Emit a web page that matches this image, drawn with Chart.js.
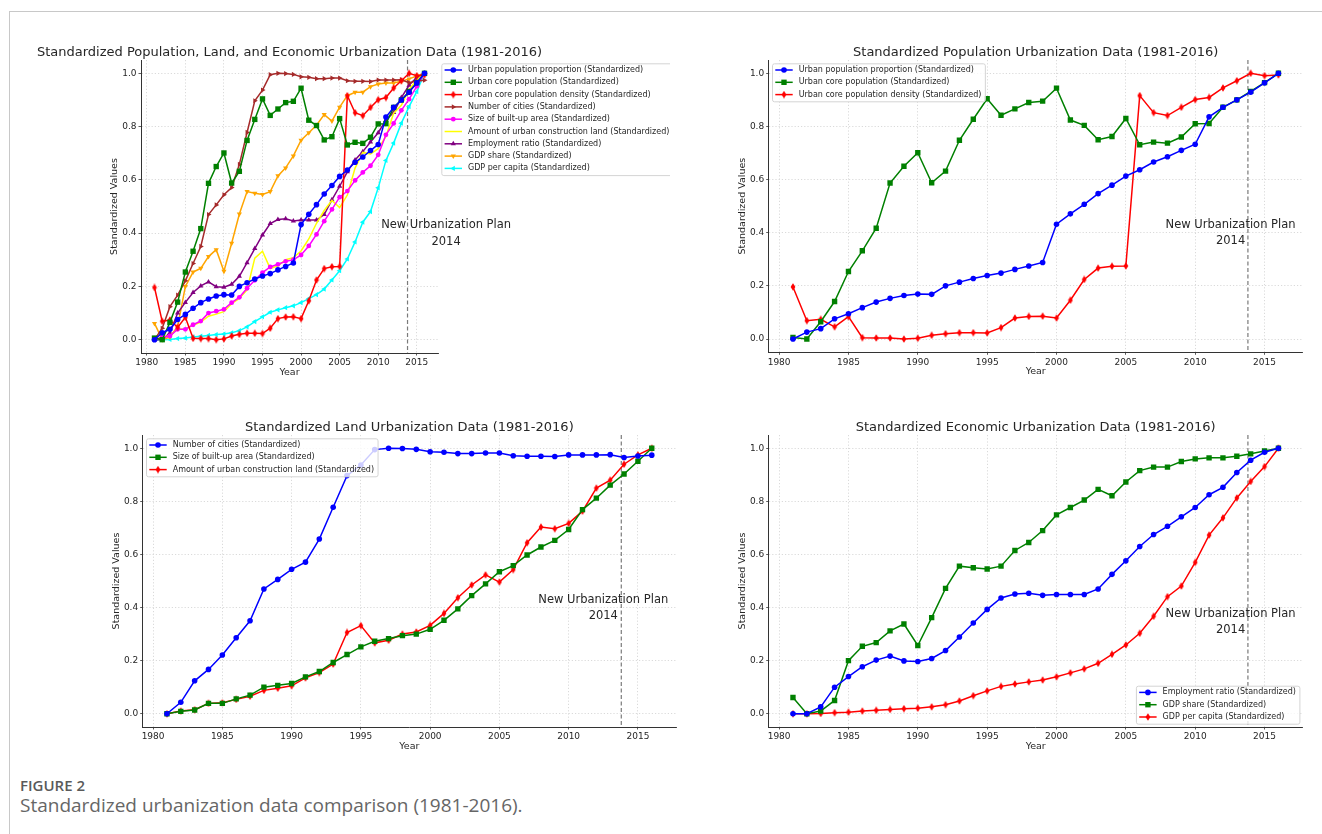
<!DOCTYPE html>
<html>
<head>
<meta charset="utf-8">
<script src="https://cdn.jsdelivr.net/npm/chart.js@4.4.1/dist/chart.umd.min.js"></script>
<style>
  body { margin: 0; width: 1322px; height: 834px; background: #fff; position: relative; overflow: hidden; }
  .frame { position: absolute; left: 9px; top: 11px; right: 0; bottom: 0; border-top: 1px solid #c8c8c8; border-left: 1px solid #c8c8c8; }
  canvas { position: absolute; }
  #figno { position: absolute; left: 20px; top: 775px; font: 600 15px "Open Sans"; color: #5a5a5a; line-height: 20px; }
  #caption { position: absolute; left: 20px; top: 793px; font: 400 19px "Open Sans"; color: #666; line-height: 24px; }
</style>
</head>
<body>
<div class="frame"></div>
<canvas id="allChart"></canvas>
<canvas id="popChart"></canvas>
<canvas id="landChart"></canvas>
<canvas id="econChart"></canvas>
<div id="figno">FIGURE 2</div>
<div id="caption">Standardized urbanization data comparison (1981-2016).</div>

<script>
// ---- data ----
const years = [1981, 1982, 1983, 1984, 1985, 1986, 1987, 1988, 1989, 1990, 1991, 1992,
               1993, 1994, 1995, 1996, 1997, 1998, 1999, 2000, 2001, 2002, 2003, 2004,
               2005, 2006, 2007, 2008, 2009, 2010, 2011, 2012, 2013, 2014, 2015, 2016];

const urbanPopProportion = [0.000, 0.026, 0.039, 0.076, 0.095, 0.118, 0.139, 0.153, 0.164, 0.169, 0.168, 0.200,
                            0.214, 0.228, 0.239, 0.248, 0.262, 0.275, 0.288, 0.432, 0.471, 0.507, 0.547, 0.579,
                            0.613, 0.637, 0.666, 0.686, 0.710, 0.733, 0.836, 0.872, 0.900, 0.929, 0.964, 1.000];
const urbanCorePop = [0.006, 0.000, 0.065, 0.141, 0.254, 0.332, 0.417, 0.587, 0.650, 0.701, 0.588, 0.632,
                      0.748, 0.827, 0.904, 0.842, 0.866, 0.890, 0.895, 0.944, 0.824, 0.804, 0.750, 0.762,
                      0.830, 0.731, 0.741, 0.737, 0.760, 0.810, 0.811, 0.872, 0.900, 0.932, 0.965, 1.000];
const urbanCoreDensity = [0.196, 0.069, 0.074, 0.046, 0.084, 0.005, 0.004, 0.004, 0.000, 0.003, 0.014, 0.020,
                          0.024, 0.024, 0.023, 0.043, 0.079, 0.085, 0.086, 0.079, 0.146, 0.224, 0.267, 0.274,
                          0.275, 0.916, 0.852, 0.841, 0.872, 0.901, 0.909, 0.945, 0.972, 1.000, 0.991, 0.994];
const numberOfCities = [0.000, 0.043, 0.124, 0.167, 0.221, 0.286, 0.350, 0.470, 0.506, 0.544, 0.571, 0.658,
                        0.778, 0.897, 0.937, 0.995, 1.000, 0.999, 0.996, 0.987, 0.985, 0.980, 0.980, 0.982,
                        0.982, 0.972, 0.970, 0.970, 0.969, 0.975, 0.975, 0.975, 0.976, 0.965, 0.971, 0.974];
const builtUpArea = [0.000, 0.009, 0.014, 0.039, 0.039, 0.056, 0.070, 0.100, 0.107, 0.114, 0.139, 0.159,
                     0.193, 0.223, 0.252, 0.273, 0.283, 0.294, 0.300, 0.318, 0.352, 0.395, 0.445, 0.489,
                     0.535, 0.558, 0.598, 0.628, 0.653, 0.694, 0.769, 0.812, 0.861, 0.903, 0.951, 1.000];
const constructionLand = [0.000, 0.010, 0.015, 0.039, 0.041, 0.054, 0.066, 0.088, 0.096, 0.105, 0.135, 0.155,
                          0.187, 0.306, 0.332, 0.267, 0.277, 0.300, 0.308, 0.333, 0.378, 0.437, 0.485, 0.523,
                          0.496, 0.543, 0.644, 0.703, 0.697, 0.717, 0.763, 0.850, 0.880, 0.940, 0.975, 1.000];
const employmentRatio = [0.000, 0.000, 0.026, 0.100, 0.140, 0.177, 0.202, 0.217, 0.199, 0.197, 0.208, 0.238,
                         0.289, 0.342, 0.393, 0.436, 0.451, 0.454, 0.446, 0.449, 0.449, 0.449, 0.470, 0.525,
                         0.576, 0.630, 0.675, 0.706, 0.742, 0.777, 0.825, 0.853, 0.909, 0.955, 0.985, 1.000];
const gdpShare = [0.061, 0.000, 0.010, 0.050, 0.200, 0.254, 0.268, 0.312, 0.338, 0.257, 0.362, 0.472,
                  0.556, 0.550, 0.545, 0.556, 0.615, 0.645, 0.690, 0.749, 0.777, 0.805, 0.845, 0.821,
                  0.873, 0.916, 0.929, 0.929, 0.950, 0.960, 0.964, 0.964, 0.970, 0.979, 0.990, 1.000];
const gdpPerCapita = [0.000, 0.000, 0.001, 0.004, 0.006, 0.010, 0.013, 0.016, 0.019, 0.021, 0.026, 0.034,
                      0.048, 0.068, 0.086, 0.103, 0.112, 0.120, 0.127, 0.139, 0.154, 0.169, 0.190, 0.224,
                      0.259, 0.303, 0.367, 0.441, 0.481, 0.570, 0.673, 0.738, 0.813, 0.875, 0.931, 1.000];

const xTicks = [1980, 1985, 1990, 1995, 2000, 2005, 2010, 2015];
const yTicks = [0.0, 0.2, 0.4, 0.6, 0.8, 1.0];
const xRange = [1979.25, 2017.75];
const yRange = [-0.05, 1.05];

const planLineYear = 2013.8;
const planLabel = ['New Urbanization Plan', '2014'];

// ---- styling ----
Chart.defaults.font.family = '"DejaVu Sans", sans-serif';
Chart.defaults.color = '#262626';

const TICK_FONT = 9;
const LABEL_FONT = 9.5;
const Y_W = 32.2;   // y axis strip width (ticks + title)
const X_H = 25.2;   // x axis strip height

function thinDiamond(color) {
    const c = document.createElement('canvas');
    c.width = 6; c.height = 8;
    const g = c.getContext('2d');
    g.fillStyle = color;
    g.beginPath();
    g.moveTo(3, 0.3); g.lineTo(5.4, 4); g.lineTo(3, 7.7); g.lineTo(0.6, 4);
    g.closePath();
    g.fill();
    return c;
}

function series(label, values, color, marker, radius, rotation) {
    return {
        label,
        data: years.map((yr, i) => ({ x: yr, y: values[i] })),
        borderColor: color,
        backgroundColor: color,
        borderWidth: 1.5,
        pointStyle: marker,
        pointRadius: radius,
        pointRotation: rotation || 0,
        pointBackgroundColor: color,
        pointBorderColor: color,
        pointBorderWidth: 0,
        tension: 0
    };
}

function drawMarker(ctx, ds, x, y) {
    const style = ds.pointStyle, r = ds.pointRadius;
    if (!r) return;
    if (typeof style === 'object') {
        ctx.drawImage(style, x - style.width / 2, y - style.height / 2);
        return;
    }
    ctx.fillStyle = ds.borderColor;
    ctx.beginPath();
    if (style === 'circle') {
        ctx.arc(x, y, r, 0, Math.PI * 2);
    } else if (style === 'rect') {
        const s = r * Math.SQRT1_2;
        ctx.rect(x - s, y - s, 2 * s, 2 * s);
    } else if (style === 'triangle') {
        let a = (ds.pointRotation || 0) * Math.PI / 180;
        for (let i = 0; i < 3; i++) {
            const px = x + Math.sin(a) * r, py = y - Math.cos(a) * r;
            if (i) ctx.lineTo(px, py); else ctx.moveTo(px, py);
            a += 2 * Math.PI / 3;
        }
        ctx.closePath();
    }
    ctx.fill();
}

// title, plan line, annotation and matplotlib-like legend
const decorPlugin = {
    id: 'decor',
    beforeDatasetsDraw(chart) {
        const { ctx, chartArea: a, scales: { x } } = chart;
        const px = x.getPixelForValue(planLineYear);
        ctx.save();
        ctx.strokeStyle = '#7a7a7a';
        ctx.lineWidth = 1.2;
        ctx.setLineDash([4, 2.5]);
        ctx.beginPath();
        ctx.moveTo(px, a.top);
        ctx.lineTo(px, a.bottom);
        ctx.stroke();
        ctx.restore();
    },
    afterDraw(chart, args, opts) {
        const { ctx, chartArea: a, scales: { x, y } } = chart;
        ctx.save();
        ctx.fillStyle = '#262626';
        ctx.textAlign = 'center';
        ctx.textBaseline = 'alphabetic';
        ctx.font = '13px "DejaVu Sans"';
        ctx.fillText(opts.title, (a.left + a.right) / 2, a.top - 4.5);

        ctx.font = '11.5px "DejaVu Sans"';
        ctx.textBaseline = 'middle';
        const nx = x.getPixelForValue(opts.noteX);
        ctx.fillText(planLabel[0], nx, y.getPixelForValue(opts.noteY[0]));
        ctx.fillText(planLabel[1], nx, y.getPixelForValue(opts.noteY[1]));

        // legend
        const items = chart.data.datasets;
        ctx.font = '8px "DejaVu Sans"';
        const rowH = 12.3, padX = 3.3, padTop = 6.7, sampleW = 17.4, gap = 6;
        const textW = Math.max(...items.map(d => ctx.measureText(d.label).width));
        const boxW = padX + sampleW + gap + textW + 3.5;
        const boxH = padTop * 2 + rowH * (items.length - 1);
        let bx, by;
        if (opts.legend === 'outside') { bx = a.right + 3.3; by = a.top + 3.3; }
        else if (opts.legend === 'upperLeft') { bx = a.left + 3.3; by = a.top + 3.3; }
        else { bx = a.right - 3.3 - boxW; by = a.bottom - 3.3 - boxH; }

        ctx.fillStyle = 'rgba(255,255,255,0.8)';
        ctx.strokeStyle = '#d4d4d4';
        ctx.lineWidth = 1;
        ctx.beginPath();
        ctx.roundRect(bx + 0.5, by + 0.5, boxW, boxH, 2);
        ctx.fill();
        ctx.stroke();

        items.forEach((d, i) => {
            const cy = by + padTop + i * rowH;
            const sx = bx + padX;
            ctx.strokeStyle = d.borderColor;
            ctx.lineWidth = 1.5;
            ctx.beginPath();
            ctx.moveTo(sx, cy);
            ctx.lineTo(sx + sampleW, cy);
            ctx.stroke();
            drawMarker(ctx, d, sx + sampleW / 2, cy);
            ctx.fillStyle = '#262626';
            ctx.textAlign = 'left';
            ctx.fillText(d.label, sx + sampleW + gap, cy);
        });
        ctx.restore();
    }
};

function axis(extra) {
    return Object.assign({
        type: 'linear',
        grid: { color: '#d0d0d0', lineWidth: 0.8, tickLength: 2.5, tickColor: '#333', tickWidth: 0.8, tickBorderDash: [] },
        border: { display: true, color: '#333', width: 1, dash: [1.2, 2] }
    }, extra);
}

function renderPanel(p) {
    const canvas = document.getElementById(p.id);
    const [bx, by, bw, bh] = p.box;
    const [al, at, ar, ab] = p.area;
    canvas.width = bw; canvas.height = bh;
    canvas.style.left = bx + 'px';
    canvas.style.top = by + 'px';

    new Chart(canvas.getContext('2d'), {
        type: 'line',
        data: { datasets: p.datasets },
        options: {
            responsive: false,
            animation: false,
            events: [],
            layout: { padding: { left: al - bx - Y_W, top: at - by, right: bx + bw - ar, bottom: by + bh - ab - X_H } },
            plugins: {
                legend: { display: false },
                tooltip: { enabled: false },
                decor: { title: p.title, legend: p.legend, noteX: p.noteX, noteY: p.noteY }
            },
            scales: {
                x: axis({
                    min: xRange[0], max: xRange[1],
                    afterBuildTicks: s => { s.ticks = xTicks.map(v => ({ value: v })); },
                    afterFit: s => { s.height = X_H; },
                    ticks: { font: { size: TICK_FONT }, color: '#262626', padding: 2, autoSkip: false, maxRotation: 0, callback: v => String(v) },
                    title: { display: true, text: 'Year', font: { size: LABEL_FONT }, padding: 0, color: '#262626' }
                }),
                y: axis({
                    min: yRange[0], max: yRange[1],
                    afterBuildTicks: s => { s.ticks = yTicks.map(v => ({ value: v })); },
                    afterFit: s => { s.width = Y_W; },
                    ticks: { font: { size: TICK_FONT }, color: '#262626', padding: 2, autoSkip: false, callback: v => Number(v).toFixed(1) },
                    title: { display: true, text: 'Standardized Values', font: { size: LABEL_FONT }, padding: 0, color: '#262626' }
                })
            }
        },
        plugins: [decorPlugin]
    });
}

const red = '#ff0000';
const panels = [
    {
        id: 'allChart', box: [20, 20, 650, 370], area: [141, 60, 438, 353],
        title: 'Standardized Population, Land, and Economic Urbanization Data (1981-2016)',
        legend: 'outside', noteX: 2018.8, noteY: [0.429, 0.368],
        datasets: [
            series('Urban population proportion (Standardized)', urbanPopProportion, '#0000ff', 'circle', 2.8),
            series('Urban core population (Standardized)', urbanCorePop, '#008000', 'rect', 3.8),
            series('Urban core population density (Standardized)', urbanCoreDensity, red, thinDiamond(red), 3),
            series('Number of cities (Standardized)', numberOfCities, '#a52a2a', 'triangle', 3, 90),
            series('Size of built-up area (Standardized)', builtUpArea, '#ff00ff', 'circle', 2.4),
            series('Amount of urban construction land (Standardized)', constructionLand, '#ffff00', 'circle', 0),
            series('Employment ratio (Standardized)', employmentRatio, '#800080', 'triangle', 3, 0),
            series('GDP share (Standardized)', gdpShare, '#ffa500', 'triangle', 3, 180),
            series('GDP per capita (Standardized)', gdpPerCapita, '#00ffff', 'triangle', 3, 270)
        ]
    },
    {
        id: 'popChart', box: [680, 20, 640, 370], area: [768.7, 60, 1302.7, 352.3],
        title: 'Standardized Population Urbanization Data (1981-2016)',
        legend: 'upperLeft', noteX: 2012.55, noteY: [0.429, 0.368],
        datasets: [
            series('Urban population proportion (Standardized)', urbanPopProportion, '#0000ff', 'circle', 2.8),
            series('Urban core population (Standardized)', urbanCorePop, '#008000', 'rect', 3.8),
            series('Urban core population density (Standardized)', urbanCoreDensity, red, thinDiamond(red), 3)
        ]
    },
    {
        id: 'landChart', box: [20, 395, 660, 370], area: [142.7, 435, 676.7, 727],
        title: 'Standardized Land Urbanization Data (1981-2016)',
        legend: 'upperLeft', noteX: 2012.5, noteY: [0.429, 0.368],
        datasets: [
            series('Number of cities (Standardized)', numberOfCities, '#0000ff', 'circle', 2.8),
            series('Size of built-up area (Standardized)', builtUpArea, '#008000', 'rect', 3.8),
            series('Amount of urban construction land (Standardized)', constructionLand, red, thinDiamond(red), 3)
        ]
    },
    {
        id: 'econChart', box: [680, 395, 640, 370], area: [768.7, 435, 1302.7, 727],
        title: 'Standardized Economic Urbanization Data (1981-2016)',
        legend: 'lowerRight', noteX: 2012.55, noteY: [0.376, 0.316],
        datasets: [
            series('Employment ratio (Standardized)', employmentRatio, '#0000ff', 'circle', 2.8),
            series('GDP share (Standardized)', gdpShare, '#008000', 'rect', 3.8),
            series('GDP per capita (Standardized)', gdpPerCapita, red, thinDiamond(red), 3)
        ]
    }
];

panels.forEach(renderPanel);
</script>
</body>
</html>
